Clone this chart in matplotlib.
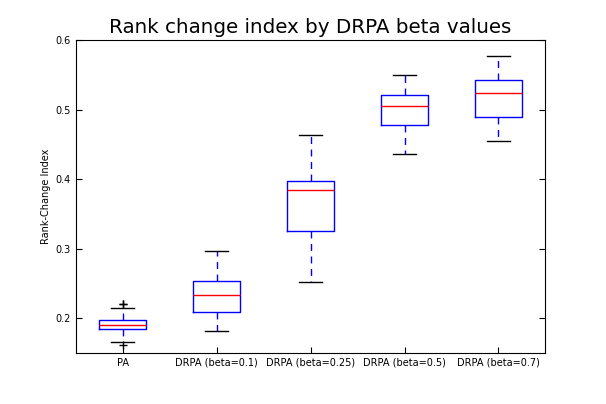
import matplotlib
matplotlib.use("Agg")
import matplotlib.pyplot as plt

labels = ["PA", "DRPA (beta=0.1)", "DRPA (beta=0.25)", "DRPA (beta=0.5)", "DRPA (beta=0.7)"]
q1 = [0.1846, 0.2096, 0.325, 0.4787, 0.4892]
med = [0.1909, 0.2336, 0.384, 0.5055, 0.5242]
q3 = [0.1981, 0.2532, 0.397, 0.5219, 0.5429]
whislo = [0.1659, 0.1813, 0.2518, 0.436, 0.4547]
whishi = [0.2148, 0.2964, 0.4633, 0.5506, 0.5774]
fliers = [[0.2211, 0.2205, 0.1622], [], [], [], []]

stats = []
for i in range(len(labels)):
    stats.append(dict(label=labels[i], q1=q1[i], med=med[i], q3=q3[i],
                      whislo=whislo[i], whishi=whishi[i], fliers=fliers[i]))

fig = plt.figure(figsize=(6.06, 4.04), dpi=100)
ax = fig.add_axes([0.125, 0.126, 0.775, 0.774])
ax.bxp(stats, widths=0.5, showfliers=True,
       boxprops=dict(color="blue", linewidth=1),
       medianprops=dict(color="red", linewidth=1),
       whiskerprops=dict(color="blue", linestyle=(0, (5, 4)), linewidth=1),
       capprops=dict(color="black", linewidth=1),
       flierprops=dict(marker="+", markeredgecolor="black", markersize=6,
                       linestyle="none", markeredgewidth=1))
ax.set_ylim(0.15, 0.6)
ax.set_xlim(0.5, 5.5)
ax.set_yticks([0.2, 0.3, 0.4, 0.5, 0.6])
ax.set_yticklabels(["0.2", "0.3", "0.4", "0.5", "0.6"])
ax.tick_params(direction="in", labelsize=7, top=True, right=True, length=4, pad=3.5)
ax.tick_params(axis="x", top=False, bottom=True)
ax.set_ylabel("Rank-Change Index", fontsize=7, labelpad=3)
ax.set_title("Rank change index by DRPA beta values", fontsize=14.3, pad=5)
fig.savefig("out.png", dpi=100)
